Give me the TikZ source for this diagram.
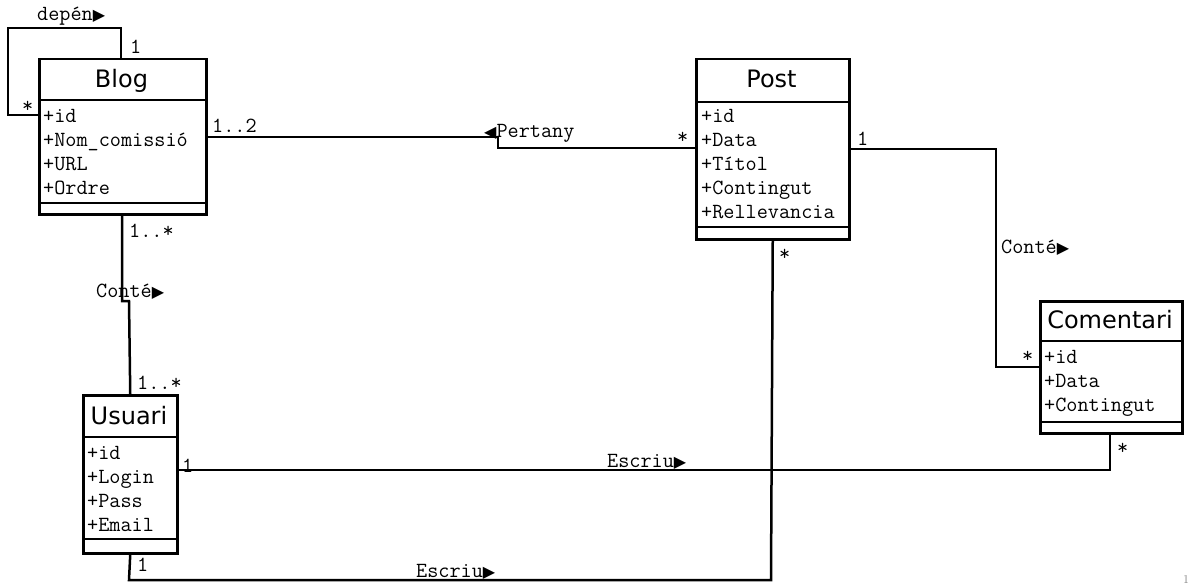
\documentclass[tikz,border=0pt]{standalone}
\usepackage{fontspec}
\newfontfamily\clsfont{DejaVu Sans}
\newfontfamily\symfont{DejaVu Sans}
\usetikzlibrary{calc}
\tikzset{
  classbox/.style={draw, line width=2.5pt, fill=white, inner sep=0pt, anchor=north west},
  sepline/.style={line width=2.5pt},
  conn/.style={line width=2.5pt},
  title/.style={font=\clsfont\fontsize{24}{26}\selectfont, anchor=base, inner sep=0pt},
  attr/.style={font=\ttfamily\fontsize{21.6}{22}\selectfont, anchor=base west, inner sep=0pt},
  lbl/.style={font=\ttfamily\fontsize{21.6}{22}\selectfont, anchor=base west, inner sep=0pt},
}
\newcommand{\rtri}{{\symfont\fontsize{16}{16}\selectfont ▶}}
\newcommand{\ltri}{{\symfont\fontsize{16}{16}\selectfont ◀}}
\begin{document}
\begin{tikzpicture}[x=1pt,y=-1pt]
\useasboundingbox[fill=white] (0,0) rectangle (1188,586);

% ---- Blog ----
\node[classbox, minimum width=167pt, minimum height=155pt] (blog) at (38,58) {};
\draw[sepline] (38,100) -- (205,100) (38,203) -- (205,203);
\node[title] (blogt) at (121.5,88) {Blog};
\node[attr] (b1) at (43,122) {+id};
\node[attr] (b2) at (43,146) {+Nom\_comissió};
\node[attr] (b3) at (43,170) {+URL};
\node[attr] (b4) at (43,194) {+Ordre};

% ---- Post ----
\node[classbox, minimum width=153pt, minimum height=180pt] (post) at (695,58) {};
\draw[sepline] (695,102) -- (848,102) (695,227) -- (848,227);
\node[title] (postt) at (771.5,88) {Post};
\node[attr] (p1) at (701,122) {+id};
\node[attr] (p2) at (701,146) {+Data};
\node[attr] (p3) at (701,170) {+Títol};
\node[attr] (p4) at (701,194) {+Contingut};
\node[attr] (p5) at (701,218) {+Rellevancia};

% ---- Comentari ----
\node[classbox, minimum width=142pt, minimum height=132pt] (coment) at (1039,300) {};
\draw[sepline] (1039,341) -- (1181,341) (1039,422) -- (1181,422);
\node[title] (comentt) at (1110,328) {Comentari};
\node[attr] (c1) at (1044,363) {+id};
\node[attr] (c2) at (1044,387) {+Data};
\node[attr] (c3) at (1044,411) {+Contingut};

% ---- Usuari ----
\node[classbox, minimum width=94pt, minimum height=158pt] (usuari) at (82,394) {};
\draw[sepline] (82,437) -- (176,437) (82,539) -- (176,539);
\node[title] (usuarit) at (129,424) {Usuari};
\node[attr] (u1) at (87,459) {+id};
\node[attr] (u2) at (87,483) {+Login};
\node[attr] (u3) at (87,507) {+Pass};
\node[attr] (u4) at (87,531) {+Email};

% ---- connectors ----
\coordinate (loopA) at (8,28);
\draw[conn] ($(blog.north west)+(83,0)$) |- (loopA) |- (blog.west |- 0,115);
\node[lbl] (ldep) at (37,21) {depén\rtri};
\node[lbl] (m1) at (130,53) {1};
\node[lbl] (m2) at (22,112) {*};

\draw[conn] (blog.east |- 0,137) -- (498,137) -- (498,148) -- (post.west |- 0,148);
\node[lbl] (lper) at (484,137) {\ltri Pertany};
\node[lbl] (m3) at (212,132) {1..2};
\node[lbl] (m4) at (677,143) {*};

\draw[conn] (post.east |- 0,149) -- (996,149) -- (996,367) -- (coment.west |- 0,367);
\node[lbl] (lcont2) at (1001,253) {Conté\rtri};
\node[lbl] (m5) at (857,145) {1};
\node[lbl] (m6) at (1022,362) {*};

\draw[conn] (blog.south -| 122,0) -- (122,301) -- (129,301) -- (usuari.north);
\node[lbl] (lcont1) at (96,297) {Conté\rtri};
\node[lbl] (m7) at (129,237) {1..*};
\node[lbl] (m8) at (137,389) {1..*};

\draw[conn] (usuari.east |- 0,470) -- (1110,470) -- (coment.south -| 1110,0);
\node[lbl] (lesc1) at (607,467) {Escriu\rtri};
\node[lbl] (m9) at (182,472) {1};
\node[lbl] (m10) at (1117,454) {*};

\draw[conn] (usuari.south) -- (129,580) -- (771,580) -- (post.south);
\node[lbl] (lesc2) at (416,577) {Escriu\rtri};
\node[lbl] (m11) at (137,571) {1};
\node[lbl] (m12) at (779,260) {*};

\node[font=\fontsize{12}{12}\selectfont, anchor=base west, inner sep=0pt, text=gray] (edge1) at (1183,583) {1};
\end{tikzpicture}
\end{document}
